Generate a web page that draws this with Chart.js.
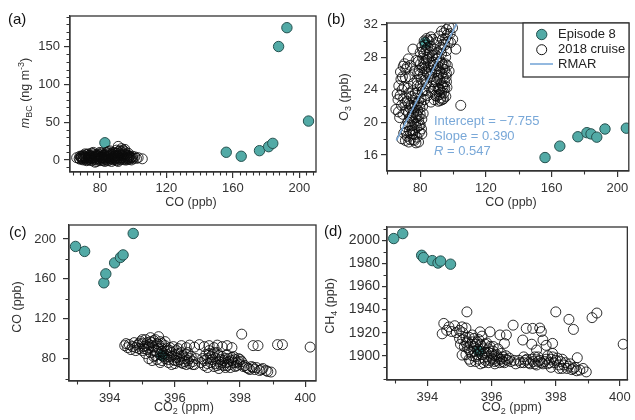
<!DOCTYPE html>
<html><head><meta charset="utf-8">
<script src="https://cdn.jsdelivr.net/npm/chart.js@4"></script>
<style>
html,body{margin:0;padding:0;background:#fff;}
#wrap{position:relative;width:635px;height:420px;overflow:hidden;background:#fff;}
canvas{position:absolute;left:0;top:0;}
</style></head><body>
<div id="wrap">
<canvas id="ca" width="635" height="420"></canvas>
<canvas id="cb" width="635" height="420"></canvas>
<canvas id="cc" width="635" height="420"></canvas>
<canvas id="cd" width="635" height="420"></canvas>
</div>
<script>
// ---------- tick labels ----------
const aXTicks = [80, 120, 160, 200];
const aYTicks = [0, 50, 100, 150];
const bXTicks = [80, 120, 160, 200];
const bYTicks = [16, 20, 24, 28, 32];
const cXTicks = [394, 396, 398, 400];
const cYTicks = [80, 120, 160, 200];
const dXTicks = [394, 396, 398, 400];
const dYTicks = [1900, 1920, 1940, 1960, 1980, 2000];

// ---------- Episode 8 ----------
const episodeCO  = [83, 156, 165, 176, 181.5, 184, 187.5, 192.5, 205.5];
const episodeBC  = [22.8, 10.2, 4.9, 12.3, 17.6, 22, 150.5, 175.5, 51.6];
const episodeO3  = [29.8, 15.7, 17.1, 18.25, 18.75, 18.6, 18.2, 19.2, 19.3];
const episodeCO2 = [395.6, 393.82, 393.88, 394.15, 394.33, 394.41, 393.23, 392.95, 394.72];
const episodeCH4 = [1904, 1987, 1985, 1982.4, 1980.3, 1982, 2005.8, 2001.5, 1979.3];

// ---------- RMAR fit (panel b) ----------
const rmarCO = [65.5, 102.2];
const rmarO3 = [17.8, 32.1];

// ---------- 2018 cruise: [CO, BC] ----------
const cruiseA = [[66,3],[68,5],[68,1],[69,3],[70,6],[70,0],[71,2],[71,4],[72,7],[72,1],[73,3],[73,5],[74,0],[74,6],[75,2],[75,4],[76,8],[76,1],[77,3],[77,5],[78,0],[78,6],[79,2],[79,4],[80,7],[80,1],[81,3],[81,5],[82,-1],[82,6],[83,2],[83,4],[84,8],[84,0],[85,3],[85,5],[86,1],[86,6],[87,2],[87,4],[88,7],[88,0],[89,3],[89,5],[90,1],[90,9],[91,2],[91,18],[91,5],[92,0],[92,7],[93,3],[93,11],[94,1],[94,5],[95,2],[95,8],[96,0],[96,4],[97,3],[97,6],[98,1],[99,3],[100,2],[105.5,1.5],[98,5],[94,13],[92,12],[88,10],[86,9],[83,-2],[78,-2],[72,-1],[75,9],[81,9],[70,3],[74,3],[79,6],[84,3],[89,1],[93,6],[96,7],[87,8],[82,3],[77,1],[73,8],[69,5],[97,9],[95,11],[90,13],[85,11],[80,10],[101,4],
[67.5,2],[68.5,4],[69.5,1],[70.5,5],[71.5,3],[72.5,0],[73.5,6],[74.5,2],[75.5,5],[76.5,3],[77.5,7],[78.5,1],[79.5,5],[80.5,3],[81.5,0],[82.5,7],[83.5,1],[84.5,5],[85.5,2],[86.5,7],[87.5,1],[88.5,5],[89.5,2],[90.5,6],[91.5,3],[92.5,1],[93.5,8],[94.5,3],[95.5,6],[96.5,2],[97.5,4],[98.5,3],[99.5,5],[102,2],[103,3],[71,8],[76,10],[79,8],[84,10],[86,12],[89,9],[91,11],[93,15],[95,14],[92,9],[88,3],[83,6],[78,4],[73,2],[69,2],[75,-1],[80,-1],[85,-1],[90,-1],[95,0],[87,-2],[91,-2],[99,0],[97,1],[77,-3],[74,4],[81,2]];

// ---------- 2018 cruise: [CO, O3] ----------
const cruiseB = [[65.2,21.6],[66.5,22.8],[67,24.5],[68.3,25.3],[69.7,26.9],[68,26.2],[70.5,27.2],[72,26.8],[71,25.5],[69,24],[70,23],[72.5,24.2],[73.5,25.6],[74,27],[75.6,29],[74.5,23.2],[73,22.3],[71.5,21.5],[69.5,21],[67.5,20.6],[70.8,22.4],[76,24.8],[76.5,26.3],[77,23.6],[75,21.8],[78,25.2],[77.5,27.6],
[68.9,18],[70,18.7],[71,19.5],[72,18.3],[72.5,20.1],[73,21.2],[73.5,19],[74,17.9],[74.5,20.5],[75,19.6],[75.5,18.6],[76,21.3],[76,20],[76.5,19.1],[77,22],[77.4,17.5],[77.5,20.6],[78,19.4],[78,18.2],[78.5,21.5],[79,20.2],[79,22.6],[79.5,18.8],[80,19.7],[80,21],[80.5,23],[81,20.4],[81.5,22],[82,24],[71,17.8],[73,17.6],[79,17.6],[81,18.6],[76.5,17.8],[74.5,22.1],[72,22.6],[77,23],[75.5,23.9],[78.5,23.7],[80,24.5],
[78.5,26],[79,27.5],[80,28.6],[80.5,25.3],[81,26.7],[81,29.3],[81.5,27.9],[82,25.8],[82.4,30],[82.5,28.5],[83,27.1],[83,29.5],[83.5,26.2],[84,30.3],[84,28],[84.5,29.2],[85,26.8],[85,27.8],[85.5,29.9],[86,25.6],[86,28.6],[86.5,27],[87,26],[87.5,28.2],[88,27],[88,25],[84,24.8],[85.5,24.3],[87,23.8],[88.5,22.8],[86.5,22.5],[84.5,23.3],[83,23.9],
[89,24.5],[89.5,26.3],[90,27.8],[90,23.2],[90.5,25.4],[91,22.6],[91,26.9],[91.5,24.1],[92,27.5],[92,25.2],[92.5,23],[93,26],[93,28.4],[93.5,24.5],[93.5,22.8],[94,27.1],[94,25.6],[94.5,23.6],[95,26.5],[95,24.2],[95.6,23.2],[95.5,28],[96,25],[96.5,27],[92,24],[93,23.7],[94,24.3],[91,25.8],[90,26.6],[96,26],
[88.5,29],[90,29.8],[91.5,30.6],[92.5,29.2],[93.6,30.2],[94.5,31],[95,29.5],[96.6,30.8],[97.6,31.7],[97.6,26.3],[98.5,29.8],[99.7,31.6],[101.7,29],[96,28.8],[89.5,28.3],[87.5,30.2],[86.5,30.5],
[104.7,22.1],
[71.5,18.8],[72.8,19.7],[73.8,20.6],[74.2,18.6],[75.2,20.9],[75.8,17.9],[76.3,22.4],[77.8,21],[78.8,20.8],[79.8,21.8],[80.8,19.2],[81.8,21.1],[82.5,22.8],[80.3,22.4],[78.3,22.3],[76.8,18.5],[75,19],[73.6,21.8],[77.2,19.8],[79.3,19.6],[81.3,23.8],[82.8,25.2],[79.8,25.9],[78.2,24.5],
[81.8,28.7],[82.8,26.6],[83.8,27.6],[84.3,26.1],[85.3,28.4],[86.2,29.4],[83.6,28.9],[84.8,30.1],[82.2,27.3],[80.2,27.2],[79.5,26.4],[86.8,26.4],[87.7,27.4],
[89.8,25],[90.8,24.2],[91.8,26.2],[92.8,24.8],[93.8,26.6],[94.8,25],[95.3,27.2],[96.3,24.3],[92.3,22.7],[94.2,22.9],[90.3,28.5],[91.3,27.9],[92.6,28.9],[93.2,27.3],[95.8,25.6],[91.7,23.4],[89.2,23.3],[88.2,24.1],
[93,31.2],[95.5,30.3],[97,29.9],[98.2,30.9],[94,29.6],[96,31.4],[99.8,30.2],
[66,23.5],[67.8,23.3],[69.2,25.6],[71.2,26.5],[72.8,27.8],[70.2,24.4],[73.2,23.6],[68.6,22.1],[66.8,21.3]];

// ---------- 2018 cruise: [CO2, CO] ----------
const cruiseC = [[394.46,93],[394.55,91],[394.6,94],[394.7,92],[394.75,96],[394.85,93.5],[394.9,90],[394.95,97],[395.0,95],[395.05,92],[395.1,99],[395.15,89],[395.2,94],[395.25,101],[395.3,96],[395.35,91.5],[395.4,99],[395.45,87],[395.5,94],[395.55,97],[395.6,90],[395.65,85],[395.7,93],[395.75,88],[395.8,82],[395.85,91],[395.9,86],[395.95,79],[396.0,84],[396.05,88],[396.1,77],[396.15,82],[396.2,86],[396.25,75],[396.3,80],[396.35,84],[396.4,78],[396.45,75],[396.5,82],[396.55,77],[396.6,74],[396.65,80],[395.1,85],[395.2,80],[395.3,78],[395.4,83],[395.55,76],[395.7,80],[395.8,76],[395.9,74],[395.5,102],[395.0,88],[394.8,88],[395.6,95],[395.75,90],[395.95,92],[396.1,90],
[396.2,93],[396.35,91],[396.45,93.5],[396.6,91.5],[396.75,94],[396.9,92],[397.05,93],[397.2,91],[397.3,93.5],[397.45,92],[397.6,93],[397.75,91],
[396.8,76],[396.9,73],[396.95,84],[397.0,80],[397.05,88],[397.1,76],[397.15,84],[397.2,72],[397.25,80],[397.3,86],[397.35,77],[397.4,74],[397.45,82],[397.5,78],[397.55,71],[397.6,76],[397.65,80],[397.7,74],[397.75,78],[397.8,82],[397.85,72],[397.9,76],[397.95,80],[398.0,74],[398.05,77],[397.0,71],[396.85,80],[397.35,70],
[398.15,73],[398.25,70],[398.35,72],[398.45,69],[398.6,68],[398.7,70],[398.85,67],[398.95,66.5],[398.5,71],
[398.05,104.5],[398.4,93],[398.55,93],[399.15,94],[399.3,94],[400.15,91.5],
[394.5,95],[394.65,89],[394.8,91],[394.9,95],[395.0,99],[395.05,90],[395.15,96],[395.2,91],[395.25,86],[395.3,93],[395.35,98],[395.4,88],[395.45,95],[395.5,90],[395.55,84],[395.6,87],[395.65,82],[395.7,97],[395.75,84],[395.8,79],[395.85,88],[395.9,82],[396.0,78],[396.05,81],[396.1,85],[396.15,79],[396.2,76],[396.3,77],[396.35,74],[396.45,80],[396.55,74],[396.25,83],[395.45,79],[395.35,82],[395.6,78],[396.0,75],[396.4,86],[395.1,93],[395.25,97],
[396.9,78],[397.0,75],[397.1,82],[397.15,79],[397.2,86],[397.25,75],[397.3,73],[397.4,79],[397.45,76],[397.5,73],[397.55,80],[397.6,73],[397.65,77],[397.7,71],[397.75,81],[397.8,76],[397.85,79],[397.9,73],[397.95,77],[398.0,79],[398.1,72],[398.2,71],[398.3,69],[398.4,71],[398.65,69],[398.8,68],[397.05,85],[397.35,83],[397.6,84]];

// ---------- 2018 cruise: [CO2, CH4] ----------
const cruiseD = [[394.46,1919],[394.51,1928],[394.6,1922],[394.67,1925],[394.75,1921],[394.85,1926],[395.0,1922],[395.08,1925],[395.2,1924],[395.23,1938],[395.03,1910],[395.08,1900.6],
[395.1,1914],[395.2,1911],[395.25,1907],[395.3,1916],[395.35,1903],[395.4,1912],[395.45,1908],[395.5,1899],[395.55,1905],[395.6,1914],[395.65,1910],[395.7,1901],[395.75,1906],[395.8,1896],[395.85,1911],[395.9,1903],[395.95,1908],[396.0,1898],[396.05,1904],[396.1,1895],[396.15,1901],[396.2,1906],[396.25,1897],[396.3,1902],[396.35,1899],[396.4,1894],[396.45,1900],[396.5,1896],[395.3,1897],[395.5,1895],[395.2,1901],[395.65,1893],[395.9,1894],[396.1,1893],[395.45,1915],[395.7,1917],
[395.64,1920.7],[395.95,1920.7],[396.26,1918],[396.46,1918],[396.67,1926.5],[397.08,1923.7],[397.28,1923.7],[397.5,1924],[397.55,1921],[396.97,1913.6],[397.6,1913.6],[397.9,1910.7],[396.4,1910.7],[397.25,1910],[397.4,1905],[397.7,1909],
[396.6,1895],[396.75,1893],[396.85,1896],[397.0,1894],[397.1,1897],[397.2,1893],[397.3,1895],[397.4,1892],[397.5,1896],[397.6,1893],[397.7,1897],[397.8,1894],[397.9,1899],[398.0,1896],[398.1,1892],[398.2,1889],[398.3,1894],[398.4,1891],[398.5,1888],[398.6,1890],[398.75,1887.6],[398.95,1886],[398.67,1898.3],[397.35,1899],[397.85,1890],[397.0,1899],[398.2,1897],
[398.0,1938],[398.41,1931.5],[398.55,1922.8],[399.13,1933],[399.28,1937],[400.1,1910],
[395.15,1908],[395.25,1912],[395.3,1905],[395.35,1910],[395.4,1900],[395.45,1904],[395.5,1910],[395.55,1901],[395.6,1897],[395.65,1904],[395.7,1908],[395.75,1898],[395.8,1903],[395.85,1899],[395.9,1906],[395.95,1896],[396.0,1902],[396.05,1897],[396.1,1900],[396.15,1896],[396.2,1899],[396.25,1894],[396.3,1897],[396.35,1895],[396.45,1897],[395.55,1912],[395.4,1918],[395.1,1920],[395.2,1916],[395.8,1910],[396.05,1908],[395.35,1895],[395.75,1894],[395.0,1915],[394.9,1920],
[396.55,1898],[396.7,1896],[396.9,1894],[397.05,1896],[397.15,1894],[397.25,1897],[397.35,1893],[397.45,1895],[397.55,1894],[397.65,1895],[397.75,1893],[397.85,1897],[397.95,1894],[398.05,1898],[398.15,1895],[398.25,1892],[398.35,1889],[398.45,1893],[398.55,1889],[398.65,1887],[397.9,1902],[397.75,1900],[397.45,1899],[398.85,1889],[398.1,1889]];

// ---------- styling / helpers ----------
const FONT = "'Liberation Sans', Arial, Helvetica, sans-serif";
const INK = '#333333';
const TEAL = '#52aaa6', TEAL_EDGE = '#25514f';
const BLUE = '#79a8d8';

const zip = (xs, ys) => xs.map((v, i) => ({x: v, y: ys[i]}));
const pairs = arr => arr.map(p => ({x: p[0], y: p[1]}));

function cruiseSet(arr) {
  return {label: '2018 cruise', data: pairs(arr), pointRadius: 5, pointBorderWidth: 1,
    pointBackgroundColor: 'rgba(0,0,0,0)', pointBorderColor: 'rgba(10,10,10,0.85)', order: 1};
}
function episodeSet(xs, ys) {
  return {label: 'Episode 8', data: zip(xs, ys), pointRadius: 5.2, pointBorderWidth: 1,
    pointBackgroundColor: TEAL, pointBorderColor: TEAL_EDGE, order: 2};
}

function rich(ctx, parts, cx, cy, rot, size, color) {
  ctx.save();
  ctx.translate(cx, cy);
  if (rot) ctx.rotate(-Math.PI / 2);
  ctx.fillStyle = color || INK;
  let w = 0;
  const segs = parts.map(p => {
    const fs = p.s ? size * 0.72 : size;
    const f = (p.i ? 'italic ' : '') + fs + 'px ' + FONT;
    ctx.font = f;
    const mw = ctx.measureText(p.t).width;
    w += mw;
    return {p, f, mw};
  });
  let xx = -w / 2;
  ctx.textBaseline = 'middle';
  ctx.textAlign = 'left';
  for (const sg of segs) {
    ctx.font = sg.f;
    const dy = sg.p.s === 'sub' ? size * 0.3 : (sg.p.s === 'sup' ? -size * 0.38 : 0);
    ctx.fillText(sg.p.t, xx, dy);
    xx += sg.mw;
  }
  ctx.restore();
}

function panel(id, o) {
  const decor = {
    id: 'decor_' + id,
    afterDraw(chart) {
      const {ctx, chartArea: a} = chart;
      const x = chart.scales.x, y = chart.scales.y;
      ctx.save();
      // frame
      ctx.strokeStyle = INK; ctx.lineWidth = 1.3;
      ctx.strokeRect(a.left, a.top, a.right - a.left, a.bottom - a.top);
      // minor ticks
      ctx.lineWidth = 1.1;
      ctx.beginPath();
      for (let i = Math.ceil(x.min / o.xMinor); i * o.xMinor <= x.max + 1e-9; i++) {
        const v = +(i * o.xMinor).toFixed(6);
        if (o.xTicks.some(t => Math.abs(t - v) < 1e-6)) continue;
        const px = Math.round(x.getPixelForValue(v)) + 0.5;
        ctx.moveTo(px, a.bottom); ctx.lineTo(px, a.bottom + 3.5);
      }
      for (let i = Math.ceil(y.min / o.yMinor); i * o.yMinor <= y.max + 1e-9; i++) {
        const v = +(i * o.yMinor).toFixed(6);
        if (o.yTicks.some(t => Math.abs(t - v) < 1e-6)) continue;
        const py = Math.round(y.getPixelForValue(v)) + 0.5;
        ctx.moveTo(a.left, py); ctx.lineTo(a.left - 3.5, py);
      }
      ctx.stroke();
      // panel label
      ctx.fillStyle = '#111';
      ctx.font = '15px ' + FONT;
      ctx.textBaseline = 'middle'; ctx.textAlign = 'left';
      ctx.fillText(o.tag.t, o.tag.x, o.tag.y);
      // axis titles
      rich(ctx, o.xTitle.parts, o.xTitle.x, o.xTitle.y, false, 12.5);
      rich(ctx, o.yTitle.parts, o.yTitle.x, o.yTitle.y, true, 12.5);
      if (o.extra) o.extra(ctx, chart);
      ctx.restore();
    }
  };
  const axis = (min, max, ticks, fitKey, fitVal, tickLen, pad, fsize) => ({
    type: 'linear', min, max,
    afterBuildTicks: s => { s.ticks = ticks.map(v => ({value: v})); },
    afterFit: s => { s[fitKey] = fitVal; },
    grid: {drawOnChartArea: false, drawTicks: true, tickLength: tickLen, color: INK, lineWidth: 1.2},
    border: {display: true, color: INK, width: 1.2},
    ticks: {font: {family: FONT, size: fsize}, color: INK, padding: pad, maxRotation: 0, autoSkip: false,
            callback: v => String(v)}
  });
  return new Chart(document.getElementById(id), {
    type: 'scatter',
    data: {datasets: o.datasets},
    options: {
      responsive: false, animation: false, events: [],
      layout: {padding: {left: o.area.l - 50, top: o.area.t, right: 635 - o.area.r, bottom: 420 - o.area.b - 30}},
      plugins: {legend: {display: false}, tooltip: {enabled: false}},
      scales: {
        x: axis(o.xMin, o.xMax, o.xTicks, 'height', 30, 6, o.xPad, 13),
        y: axis(o.yMin, o.yMax, o.yTicks, 'width', 50, o.yLen, o.yPad, o.yFont || 13)
      }
    },
    plugins: [decor]
  });
}

// ---------- panel (a) ----------
panel('ca', {
  area: {l: 70, t: 16, r: 316, b: 172},
  xMin: 62, xMax: 210, yMin: -16, yMax: 191,
  xTicks: aXTicks, yTicks: aYTicks, xMinor: 4, yMinor: 10,
  xPad: 3, yPad: 4, yLen: 6,
  tag: {t: '(a)', x: 8, y: 20},
  xTitle: {parts: [{t: 'CO (ppb)'}], x: 191, y: 203},
  yTitle: {parts: [{t: 'm', i: true}, {t: 'BC', s: 'sub'}, {t: ' (ng m'}, {t: '-3', s: 'sup'}, {t: ')'}], x: 26, y: 93},
  datasets: [cruiseSet(cruiseA), episodeSet(episodeCO, episodeBC)]
});

// ---------- panel (b) ----------
panel('cb', {
  area: {l: 387, t: 23, r: 629, b: 171},
  xMin: 59.8, xMax: 207, yMin: 14.05, yMax: 32.2,
  xTicks: bXTicks, yTicks: bYTicks, xMinor: 20, yMinor: 2,
  xPad: 4, yPad: 3, yLen: 6,
  tag: {t: '(b)', x: 327, y: 20},
  xTitle: {parts: [{t: 'CO (ppb)'}], x: 511, y: 203},
  yTitle: {parts: [{t: 'O'}, {t: '3', s: 'sub'}, {t: ' (ppb)'}], x: 345, y: 97},
  datasets: [
    {type: 'line', label: 'RMAR', data: zip(rmarCO, rmarO3), borderColor: BLUE, borderWidth: 1.6, pointRadius: 0, showLine: true, fill: false, order: 0},
    cruiseSet(cruiseB), episodeSet(episodeCO, episodeO3)
  ],
  extra(ctx) {
    // legend
    ctx.fillStyle = '#fff';
    ctx.fillRect(523, 23, 106, 54);
    ctx.strokeStyle = INK; ctx.lineWidth = 1.3;
    ctx.strokeRect(523, 23, 106, 54);
    ctx.beginPath(); ctx.arc(541.7, 34.5, 5.2, 0, Math.PI * 2);
    ctx.fillStyle = TEAL; ctx.fill(); ctx.strokeStyle = TEAL_EDGE; ctx.lineWidth = 1; ctx.stroke();
    ctx.beginPath(); ctx.arc(541.7, 49.7, 5, 0, Math.PI * 2);
    ctx.strokeStyle = '#111'; ctx.stroke();
    ctx.beginPath(); ctx.moveTo(530, 64); ctx.lineTo(553, 64);
    ctx.strokeStyle = BLUE; ctx.lineWidth = 1.6; ctx.stroke();
    ctx.fillStyle = '#222'; ctx.font = '13px ' + FONT;
    ctx.textBaseline = 'middle'; ctx.textAlign = 'left';
    ctx.fillText('Episode 8', 558, 34.5);
    ctx.fillText('2018 cruise', 558, 49.7);
    ctx.fillText('RMAR', 558, 64.5);
    // annotation
    ctx.fillStyle = BLUE;
    ctx.fillText('Intercept = \u22127.755', 434, 121.7);
    ctx.fillText('Slope = 0.390', 434, 136.7);
    ctx.font = 'italic 13px ' + FONT;
    ctx.fillText('R', 434, 151.7);
    const rw = ctx.measureText('R').width;
    ctx.font = '13px ' + FONT;
    ctx.fillText(' = 0.547', 434 + rw, 151.7);
  }
});

// ---------- panel (c) ----------
panel('cc', {
  area: {l: 69, t: 225, r: 316, b: 381},
  xMin: 392.75, xMax: 400.33, yMin: 57.5, yMax: 214,
  xTicks: cXTicks, yTicks: cYTicks, xMinor: 1, yMinor: 20,
  xPad: 4, yPad: 7, yLen: 6,
  tag: {t: '(c)', x: 9, y: 233},
  xTitle: {parts: [{t: 'CO'}, {t: '2', s: 'sub'}, {t: ' (ppm)'}], x: 184, y: 408},
  yTitle: {parts: [{t: 'CO (ppb)'}], x: 18, y: 307},
  datasets: [cruiseSet(cruiseC), episodeSet(episodeCO2, episodeCO)]
});

// ---------- panel (d) ----------
panel('cd', {
  area: {l: 387, t: 227, r: 631, b: 380},
  xMin: 392.74, xMax: 400.23, yMin: 1879, yMax: 2011.5,
  xTicks: dXTicks, yTicks: dYTicks, xMinor: 1, yMinor: 10,
  xPad: 4, yPad: 2, yLen: 5, yFont: 14,
  tag: {t: '(d)', x: 324, y: 232},
  xTitle: {parts: [{t: 'CO'}, {t: '2', s: 'sub'}, {t: ' (ppm)'}], x: 512, y: 408},
  yTitle: {parts: [{t: 'CH'}, {t: '4', s: 'sub'}, {t: ' (ppb)'}], x: 331, y: 306},
  datasets: [cruiseSet(cruiseD), episodeSet(episodeCO2, episodeCH4)]
});
</script>
</body></html>
